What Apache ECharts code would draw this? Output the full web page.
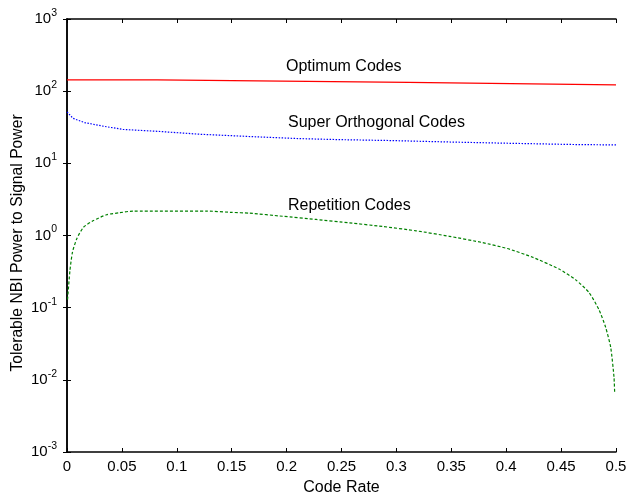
<!DOCTYPE html>
<html>
<head>
<meta charset="utf-8">
<script src="https://cdn.jsdelivr.net/npm/echarts@6/dist/echarts.min.js"></script>
<style>html,body{margin:0;padding:0;background:#fff;}#c{width:626px;height:499px;}</style>
</head>
<body>
<div id="c"></div>
<script>
// Code rate vs tolerable NBI power to signal power
const xTicks = [0, 0.05, 0.1, 0.15, 0.2, 0.25, 0.3, 0.35, 0.4, 0.45, 0.5];
const yTickExponents = [-3, -2, -1, 0, 1, 2, 3];

const optimumRate = [0, 0.082, 0.196, 0.311, 0.423, 0.5];
const optimumValue = [143.6, 138, 132, 126, 122, 122];

const superRate = [0, 0.0055, 0.016, 0.033, 0.051, 0.082, 0.121, 0.175, 0.212, 0.248, 0.294, 0.345, 0.4, 0.464, 0.5];
const superValue = [51.6, 42, 36.7, 32.7, 29.5, 27.8, 25.3, 23.2, 22, 21.3, 20.7, 19.8, 19, 18.2, 18.0];

const repRate = [0.0005, 0.0027, 0.005, 0.009, 0.015, 0.024, 0.036, 0.048, 0.06, 0.128, 0.15, 0.1664, 0.1964, 0.227, 0.2573, 0.2873, 0.3179, 0.3482, 0.3782, 0.4009, 0.4236, 0.4482, 0.4636, 0.4755, 0.4845, 0.4906, 0.4952, 0.4982, 0.4988];
const repValue = [0.13, 0.33, 0.59, 0.91, 1.30, 1.61, 1.94, 2.07, 2.18, 2.18, 2.09, 2.04, 1.848, 1.668, 1.496, 1.334, 1.162, 0.975, 0.799, 0.660, 0.503, 0.3425, 0.241, 0.1616, 0.0938, 0.0533, 0.0281, 0.01076, 0.0064];

const seriesNames = ['Optimum Codes', 'Super Orthogonal Codes', 'Repetition Codes'];

function pairs(xs, ys) { return xs.map((x, i) => [x, ys[i]]); }

const FONT = 'Liberation Sans, Arial, Helvetica, sans-serif';
const chart = echarts.init(document.getElementById('c'));

const axisLine = { show: true, lineStyle: { color: '#000', width: 1.5 } };
const axisTick = { show: true, inside: true, length: 4, lineStyle: { color: '#000', width: 1 } };

function yLabel(v) {
  const e = Math.round(Math.log10(v));
  return '10{sup|' + e + '}';
}

chart.setOption({
  animation: false,
  backgroundColor: '#fff',
  grid: { left: 67, right: 10, top: 19, bottom: 47, containLabel: false, outerBoundsMode: 'none' },
  xAxis: [
    {
      type: 'value', min: 0, max: 0.5, interval: 0.05,
      name: 'Code Rate', nameLocation: 'middle', nameGap: 28, nameMoveOverlap: false,
      nameTextStyle: { fontFamily: FONT, fontSize: 16, color: '#000' },
      axisLine, axisTick, splitLine: { show: false },
      axisLabel: { fontFamily: FONT, fontSize: 15, color: '#000', margin: 7,
        formatter: v => { const t = xTicks.find(x => Math.abs(x - v) < 1e-9); return t === undefined ? '' : String(+t.toFixed(2)); } }
    },
    {
      type: 'value', min: 0, max: 0.5, interval: 0.05, position: 'top',
      axisLine, axisTick, axisLabel: { show: false }, splitLine: { show: false }
    }
  ],
  yAxis: [
    {
      type: 'log', logBase: 10, min: 0.001, max: 1000, interval: 1,
      name: 'Tolerable NBI Power to Signal Power', nameLocation: 'middle', nameGap: 41, nameMoveOverlap: false,
      nameTextStyle: { fontFamily: FONT, fontSize: 15.7, color: '#000', padding: [0, 15, 0, 0] },
      axisLine, axisTick, splitLine: { show: false }, minorTick: { show: false },
      axisLabel: { fontFamily: FONT, fontSize: 15, color: '#000', margin: 10,
        formatter: yLabel,
        rich: { sup: { fontFamily: FONT, fontSize: 10.5, color: '#000', verticalAlign: 'top', padding: [0, 0, 12, 0] } } }
    },
    {
      type: 'log', logBase: 10, min: 0.001, max: 1000, interval: 1, position: 'right',
      axisLine, axisTick, axisLabel: { show: false }, splitLine: { show: false }
    }
  ],
  series: [
    { name: seriesNames[0], type: 'line', step: 'end', data: pairs(optimumRate, optimumValue), showSymbol: false,
      lineStyle: { color: '#ff0000', width: 1.3 } },
    { name: seriesNames[1], type: 'line', data: pairs(superRate, superValue), showSymbol: false,
      lineStyle: { color: '#0000ff', width: 1.2, type: [1.5, 1.5] } },
    { name: seriesNames[2], type: 'line', smooth: 0.2, data: pairs(repRate, repValue), showSymbol: false,
      lineStyle: { color: '#008000', width: 1.2, type: [3, 2] } }
  ],
  graphic: [
    { type: 'text', left: 286, top: 59, style: { text: seriesNames[0], font: '16px ' + FONT, fill: '#000' } },
    { type: 'text', left: 288, top: 115, style: { text: seriesNames[1], font: '16px ' + FONT, fill: '#000' } },
    { type: 'text', left: 288, top: 198, style: { text: seriesNames[2], font: '16px ' + FONT, fill: '#000' } }
  ]
});
</script>
</body>
</html>
